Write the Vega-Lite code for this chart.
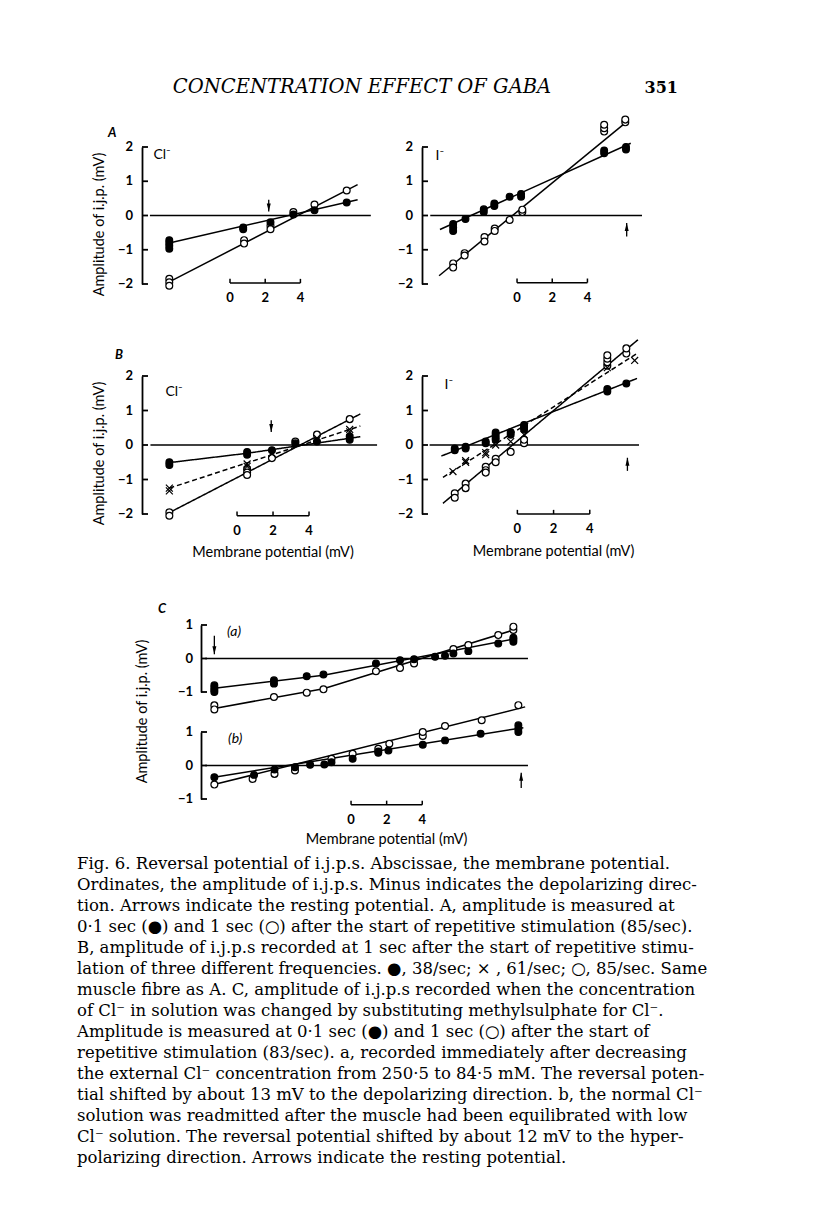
{
  "$schema": "https://vega.github.io/schema/vega-lite/v6.json",
  "background": "white",
  "padding": {"left": 77, "top": 76, "right": 10, "bottom": 10},
  "config": {"view": {"stroke": null}, "point": {"opacity": 1}},
  "columns": 4,
  "align": "each",
  "bounds": "flush",
  "spacing": 0,
  "datasets": {
    "points": [
      {"panel": "A-Cl", "sym": "open", "x": -3.45, "y": -1.85}, {"panel": "A-Cl", "sym": "open", "x": -3.45, "y": -1.95}, {"panel": "A-Cl", "sym": "open", "x": -3.45, "y": -2.05},
      {"panel": "A-Cl", "sym": "open", "x": 0.8, "y": -0.72}, {"panel": "A-Cl", "sym": "open", "x": 0.8, "y": -0.82}, {"panel": "A-Cl", "sym": "open", "x": 2.3, "y": -0.3},
      {"panel": "A-Cl", "sym": "open", "x": 2.3, "y": -0.4}, {"panel": "A-Cl", "sym": "open", "x": 3.6, "y": 0.1}, {"panel": "A-Cl", "sym": "open", "x": 4.8, "y": 0.32},
      {"panel": "A-Cl", "sym": "open", "x": 6.63, "y": 0.73},
      {"panel": "A-Cl", "sym": "filled", "x": -3.45, "y": -0.72}, {"panel": "A-Cl", "sym": "filled", "x": -3.45, "y": -0.8}, {"panel": "A-Cl", "sym": "filled", "x": -3.45, "y": -0.88},
      {"panel": "A-Cl", "sym": "filled", "x": -3.45, "y": -0.97}, {"panel": "A-Cl", "sym": "filled", "x": 0.75, "y": -0.35}, {"panel": "A-Cl", "sym": "filled", "x": 0.75, "y": -0.4},
      {"panel": "A-Cl", "sym": "filled", "x": 2.3, "y": -0.2}, {"panel": "A-Cl", "sym": "filled", "x": 3.6, "y": 0.03}, {"panel": "A-Cl", "sym": "filled", "x": 4.8, "y": 0.15},
      {"panel": "A-Cl", "sym": "filled", "x": 6.63, "y": 0.38},

      {"panel": "A-I", "sym": "open", "x": -3.63, "y": -1.4}, {"panel": "A-I", "sym": "open", "x": -3.63, "y": -1.52}, {"panel": "A-I", "sym": "open", "x": -2.98, "y": -1.1},
      {"panel": "A-I", "sym": "open", "x": -2.98, "y": -1.17}, {"panel": "A-I", "sym": "open", "x": -1.85, "y": -0.63}, {"panel": "A-I", "sym": "open", "x": -1.85, "y": -0.76},
      {"panel": "A-I", "sym": "open", "x": -1.27, "y": -0.38}, {"panel": "A-I", "sym": "open", "x": -1.27, "y": -0.45}, {"panel": "A-I", "sym": "open", "x": -0.42, "y": -0.13},
      {"panel": "A-I", "sym": "open", "x": 0.3, "y": 0.1}, {"panel": "A-I", "sym": "open", "x": 0.3, "y": 0.17}, {"panel": "A-I", "sym": "open", "x": 4.95, "y": 2.45},
      {"panel": "A-I", "sym": "open", "x": 4.95, "y": 2.55}, {"panel": "A-I", "sym": "open", "x": 4.95, "y": 2.65}, {"panel": "A-I", "sym": "open", "x": 6.15, "y": 2.72},
      {"panel": "A-I", "sym": "open", "x": 6.15, "y": 2.8},
      {"panel": "A-I", "sym": "filled", "x": -3.63, "y": -0.25}, {"panel": "A-I", "sym": "filled", "x": -3.63, "y": -0.35}, {"panel": "A-I", "sym": "filled", "x": -3.63, "y": -0.45},
      {"panel": "A-I", "sym": "filled", "x": -2.93, "y": -0.1}, {"panel": "A-I", "sym": "filled", "x": -1.89, "y": 0.1}, {"panel": "A-I", "sym": "filled", "x": -1.89, "y": 0.18},
      {"panel": "A-I", "sym": "filled", "x": -1.29, "y": 0.28}, {"panel": "A-I", "sym": "filled", "x": -1.29, "y": 0.35}, {"panel": "A-I", "sym": "filled", "x": -0.42, "y": 0.55},
      {"panel": "A-I", "sym": "filled", "x": 0.23, "y": 0.55}, {"panel": "A-I", "sym": "filled", "x": 0.23, "y": 0.63}, {"panel": "A-I", "sym": "filled", "x": 4.95, "y": 1.82},
      {"panel": "A-I", "sym": "filled", "x": 4.95, "y": 1.9}, {"panel": "A-I", "sym": "filled", "x": 6.19, "y": 1.93}, {"panel": "A-I", "sym": "filled", "x": 6.19, "y": 2.0},

      {"panel": "B-Cl", "sym": "open", "x": -3.76, "y": -1.95}, {"panel": "B-Cl", "sym": "open", "x": -3.76, "y": -2.05}, {"panel": "B-Cl", "sym": "open", "x": 0.56, "y": -0.7},
      {"panel": "B-Cl", "sym": "open", "x": 0.56, "y": -0.8}, {"panel": "B-Cl", "sym": "open", "x": 0.56, "y": -0.87}, {"panel": "B-Cl", "sym": "open", "x": 1.94, "y": -0.38},
      {"panel": "B-Cl", "sym": "open", "x": 3.24, "y": 0.1}, {"panel": "B-Cl", "sym": "open", "x": 4.44, "y": 0.3}, {"panel": "B-Cl", "sym": "open", "x": 6.26, "y": 0.75},
      {"panel": "B-Cl", "sym": "cross", "x": -3.76, "y": -1.25}, {"panel": "B-Cl", "sym": "cross", "x": -3.76, "y": -1.33}, {"panel": "B-Cl", "sym": "cross", "x": 0.56, "y": -0.55},
      {"panel": "B-Cl", "sym": "cross", "x": 0.56, "y": -0.62}, {"panel": "B-Cl", "sym": "cross", "x": 1.94, "y": -0.25}, {"panel": "B-Cl", "sym": "cross", "x": 3.24, "y": 0.05},
      {"panel": "B-Cl", "sym": "cross", "x": 4.44, "y": 0.2}, {"panel": "B-Cl", "sym": "cross", "x": 6.26, "y": 0.38}, {"panel": "B-Cl", "sym": "cross", "x": 6.26, "y": 0.45},
      {"panel": "B-Cl", "sym": "filled", "x": -3.76, "y": -0.5}, {"panel": "B-Cl", "sym": "filled", "x": -3.76, "y": -0.58}, {"panel": "B-Cl", "sym": "filled", "x": 0.56, "y": -0.2},
      {"panel": "B-Cl", "sym": "filled", "x": 0.56, "y": -0.28}, {"panel": "B-Cl", "sym": "filled", "x": 1.94, "y": -0.15}, {"panel": "B-Cl", "sym": "filled", "x": 3.24, "y": 0.05},
      {"panel": "B-Cl", "sym": "filled", "x": 4.44, "y": 0.1}, {"panel": "B-Cl", "sym": "filled", "x": 6.26, "y": 0.15}, {"panel": "B-Cl", "sym": "filled", "x": 6.26, "y": 0.25},

      {"panel": "B-I", "sym": "open", "x": -3.46, "y": -1.4}, {"panel": "B-I", "sym": "open", "x": -3.46, "y": -1.53}, {"panel": "B-I", "sym": "open", "x": -2.86, "y": -1.12},
      {"panel": "B-I", "sym": "open", "x": -2.86, "y": -1.25}, {"panel": "B-I", "sym": "open", "x": -1.75, "y": -0.63}, {"panel": "B-I", "sym": "open", "x": -1.75, "y": -0.73},
      {"panel": "B-I", "sym": "open", "x": -1.75, "y": -0.8}, {"panel": "B-I", "sym": "open", "x": -1.2, "y": -0.4}, {"panel": "B-I", "sym": "open", "x": -1.2, "y": -0.5},
      {"panel": "B-I", "sym": "open", "x": -0.37, "y": -0.2}, {"panel": "B-I", "sym": "open", "x": 0.37, "y": 0.05}, {"panel": "B-I", "sym": "open", "x": 0.37, "y": 0.15},
      {"panel": "B-I", "sym": "open", "x": 4.97, "y": 2.3}, {"panel": "B-I", "sym": "open", "x": 4.97, "y": 2.4}, {"panel": "B-I", "sym": "open", "x": 4.97, "y": 2.5},
      {"panel": "B-I", "sym": "open", "x": 4.97, "y": 2.6}, {"panel": "B-I", "sym": "open", "x": 6.02, "y": 2.65}, {"panel": "B-I", "sym": "open", "x": 6.02, "y": 2.8},
      {"panel": "B-I", "sym": "cross", "x": -3.56, "y": -0.77}, {"panel": "B-I", "sym": "cross", "x": -2.86, "y": -0.45}, {"panel": "B-I", "sym": "cross", "x": -2.86, "y": -0.5},
      {"panel": "B-I", "sym": "cross", "x": -1.75, "y": -0.22}, {"panel": "B-I", "sym": "cross", "x": -1.75, "y": -0.28}, {"panel": "B-I", "sym": "cross", "x": -1.2, "y": 0.0},
      {"panel": "B-I", "sym": "cross", "x": -0.37, "y": 0.1}, {"panel": "B-I", "sym": "cross", "x": 0.37, "y": 0.3}, {"panel": "B-I", "sym": "cross", "x": 4.97, "y": 2.24},
      {"panel": "B-I", "sym": "cross", "x": 6.48, "y": 2.45},
      {"panel": "B-I", "sym": "filled", "x": -3.46, "y": -0.1}, {"panel": "B-I", "sym": "filled", "x": -3.46, "y": -0.15}, {"panel": "B-I", "sym": "filled", "x": -2.86, "y": -0.05},
      {"panel": "B-I", "sym": "filled", "x": -2.86, "y": -0.1}, {"panel": "B-I", "sym": "filled", "x": -1.75, "y": 0.05}, {"panel": "B-I", "sym": "filled", "x": -1.75, "y": 0.1},
      {"panel": "B-I", "sym": "filled", "x": -1.2, "y": 0.15}, {"panel": "B-I", "sym": "filled", "x": -1.2, "y": 0.22}, {"panel": "B-I", "sym": "filled", "x": -1.2, "y": 0.3},
      {"panel": "B-I", "sym": "filled", "x": -1.2, "y": 0.36}, {"panel": "B-I", "sym": "filled", "x": -0.37, "y": 0.3}, {"panel": "B-I", "sym": "filled", "x": -0.37, "y": 0.37},
      {"panel": "B-I", "sym": "filled", "x": 0.37, "y": 0.45}, {"panel": "B-I", "sym": "filled", "x": 0.37, "y": 0.52}, {"panel": "B-I", "sym": "filled", "x": 0.37, "y": 0.58},
      {"panel": "B-I", "sym": "filled", "x": 4.97, "y": 1.55}, {"panel": "B-I", "sym": "filled", "x": 4.97, "y": 1.62}, {"panel": "B-I", "sym": "filled", "x": 6.02, "y": 1.78},

      {"panel": "C-a", "sym": "open", "x": -7.68, "y": -1.4}, {"panel": "C-a", "sym": "open", "x": -7.68, "y": -1.52}, {"panel": "C-a", "sym": "open", "x": -4.33, "y": -1.15},
      {"panel": "C-a", "sym": "open", "x": -2.49, "y": -1.02}, {"panel": "C-a", "sym": "open", "x": -1.55, "y": -0.92}, {"panel": "C-a", "sym": "open", "x": 1.4, "y": -0.38},
      {"panel": "C-a", "sym": "open", "x": 2.75, "y": -0.28}, {"panel": "C-a", "sym": "open", "x": 3.54, "y": -0.15}, {"panel": "C-a", "sym": "open", "x": 5.75, "y": 0.28},
      {"panel": "C-a", "sym": "open", "x": 6.59, "y": 0.4}, {"panel": "C-a", "sym": "open", "x": 8.27, "y": 0.7}, {"panel": "C-a", "sym": "open", "x": 9.12, "y": 0.85},
      {"panel": "C-a", "sym": "open", "x": 9.12, "y": 0.95},
      {"panel": "C-a", "sym": "filled", "x": -7.68, "y": -0.8}, {"panel": "C-a", "sym": "filled", "x": -7.68, "y": -0.87}, {"panel": "C-a", "sym": "filled", "x": -7.68, "y": -0.94},
      {"panel": "C-a", "sym": "filled", "x": -7.68, "y": -1.0}, {"panel": "C-a", "sym": "filled", "x": -4.33, "y": -0.65}, {"panel": "C-a", "sym": "filled", "x": -4.33, "y": -0.75},
      {"panel": "C-a", "sym": "filled", "x": -2.49, "y": -0.53}, {"panel": "C-a", "sym": "filled", "x": -1.55, "y": -0.48}, {"panel": "C-a", "sym": "filled", "x": 1.4, "y": -0.15},
      {"panel": "C-a", "sym": "filled", "x": 2.75, "y": -0.05}, {"panel": "C-a", "sym": "filled", "x": 3.54, "y": -0.02}, {"panel": "C-a", "sym": "filled", "x": 4.72, "y": 0.05},
      {"panel": "C-a", "sym": "filled", "x": 5.28, "y": 0.08}, {"panel": "C-a", "sym": "filled", "x": 5.75, "y": 0.15}, {"panel": "C-a", "sym": "filled", "x": 6.59, "y": 0.22},
      {"panel": "C-a", "sym": "filled", "x": 8.27, "y": 0.45}, {"panel": "C-a", "sym": "filled", "x": 9.12, "y": 0.5}, {"panel": "C-a", "sym": "filled", "x": 9.12, "y": 0.57},
      {"panel": "C-a", "sym": "filled", "x": 9.12, "y": 0.62},

      {"panel": "C-b", "sym": "open", "x": -7.68, "y": -0.57}, {"panel": "C-b", "sym": "open", "x": -5.53, "y": -0.4}, {"panel": "C-b", "sym": "open", "x": -4.3, "y": -0.25},
      {"panel": "C-b", "sym": "open", "x": -3.15, "y": -0.15}, {"panel": "C-b", "sym": "open", "x": -1.1, "y": 0.2}, {"panel": "C-b", "sym": "open", "x": 0.09, "y": 0.35},
      {"panel": "C-b", "sym": "open", "x": 1.53, "y": 0.5}, {"panel": "C-b", "sym": "open", "x": 2.15, "y": 0.65}, {"panel": "C-b", "sym": "open", "x": 4.03, "y": 0.88},
      {"panel": "C-b", "sym": "open", "x": 4.03, "y": 1.0}, {"panel": "C-b", "sym": "open", "x": 5.28, "y": 1.18}, {"panel": "C-b", "sym": "open", "x": 7.34, "y": 1.35},
      {"panel": "C-b", "sym": "open", "x": 9.4, "y": 1.8},
      {"panel": "C-b", "sym": "filled", "x": -7.68, "y": -0.35}, {"panel": "C-b", "sym": "filled", "x": -5.45, "y": -0.28}, {"panel": "C-b", "sym": "filled", "x": -4.3, "y": -0.12},
      {"panel": "C-b", "sym": "filled", "x": -3.15, "y": -0.05}, {"panel": "C-b", "sym": "filled", "x": -2.3, "y": 0.02}, {"panel": "C-b", "sym": "filled", "x": -1.5, "y": 0.03},
      {"panel": "C-b", "sym": "filled", "x": -1.1, "y": 0.1}, {"panel": "C-b", "sym": "filled", "x": 0.09, "y": 0.2}, {"panel": "C-b", "sym": "filled", "x": 1.53, "y": 0.38},
      {"panel": "C-b", "sym": "filled", "x": 1.53, "y": 0.42}, {"panel": "C-b", "sym": "filled", "x": 2.1, "y": 0.45}, {"panel": "C-b", "sym": "filled", "x": 4.03, "y": 0.62},
      {"panel": "C-b", "sym": "filled", "x": 5.28, "y": 0.75}, {"panel": "C-b", "sym": "filled", "x": 7.28, "y": 0.95}, {"panel": "C-b", "sym": "filled", "x": 9.4, "y": 1.0},
      {"panel": "C-b", "sym": "filled", "x": 9.4, "y": 1.1}, {"panel": "C-b", "sym": "filled", "x": 9.4, "y": 1.2}
    ],
    "fits": [
      {"panel": "A-Cl", "sym": "filled", "x": -3.45, "y": -0.8}, {"panel": "A-Cl", "sym": "filled", "x": 7.25, "y": 0.46},
      {"panel": "A-Cl", "sym": "open", "x": -3.45, "y": -1.94}, {"panel": "A-Cl", "sym": "open", "x": 7.25, "y": 0.9},
      {"panel": "A-I", "sym": "filled", "x": -4.38, "y": -0.41}, {"panel": "A-I", "sym": "filled", "x": 6.46, "y": 2.11},
      {"panel": "A-I", "sym": "open", "x": -4.43, "y": -1.76}, {"panel": "A-I", "sym": "open", "x": 6.31, "y": 2.77},
      {"panel": "B-Cl", "sym": "filled", "x": -3.76, "y": -0.51}, {"panel": "B-Cl", "sym": "filled", "x": 0.56, "y": -0.24}, {"panel": "B-Cl", "sym": "filled", "x": 6.85, "y": 0.24},
      {"panel": "B-Cl", "sym": "cross", "x": -3.76, "y": -1.25}, {"panel": "B-Cl", "sym": "cross", "x": 6.85, "y": 0.55},
      {"panel": "B-Cl", "sym": "open", "x": -3.76, "y": -1.96}, {"panel": "B-Cl", "sym": "open", "x": 6.85, "y": 0.9},
      {"panel": "B-I", "sym": "filled", "x": -4.2, "y": -0.32}, {"panel": "B-I", "sym": "filled", "x": 6.61, "y": 1.93},
      {"panel": "B-I", "sym": "cross", "x": -4.11, "y": -0.94}, {"panel": "B-I", "sym": "cross", "x": 6.66, "y": 2.67},
      {"panel": "B-I", "sym": "open", "x": -4.11, "y": -1.69}, {"panel": "B-I", "sym": "open", "x": 6.66, "y": 3.05},
      {"panel": "C-a", "sym": "filled", "x": -7.68, "y": -0.89}, {"panel": "C-a", "sym": "filled", "x": -1.55, "y": -0.5}, {"panel": "C-a", "sym": "filled", "x": 9.3, "y": 0.6},
      {"panel": "C-a", "sym": "open", "x": -7.68, "y": -1.49}, {"panel": "C-a", "sym": "open", "x": -1.55, "y": -0.9}, {"panel": "C-a", "sym": "open", "x": 9.31, "y": 0.88},
      {"panel": "C-b", "sym": "filled", "x": -7.7, "y": -0.35}, {"panel": "C-b", "sym": "filled", "x": 9.68, "y": 1.13},
      {"panel": "C-b", "sym": "open", "x": -7.7, "y": -0.57}, {"panel": "C-b", "sym": "open", "x": 9.78, "y": 1.75}
    ],
    "arrows": [
      {"panel": "A-Cl", "dir": "down", "x": 2.2, "y": 0.46, "tip": 0.12},
      {"panel": "A-I", "dir": "up", "x": 6.23, "y": -0.61, "tip": -0.22},
      {"panel": "B-Cl", "dir": "down", "x": 1.9, "y": 0.72, "tip": 0.38},
      {"panel": "B-I", "dir": "up", "x": 6.08, "y": -0.75, "tip": -0.37},
      {"panel": "C-a", "dir": "down", "x": -7.68, "y": 0.68, "tip": 0.13},
      {"panel": "C-b", "dir": "up", "x": 9.56, "y": -0.67, "tip": -0.22}
    ],
    "notes": [
      {"panel": "A-Cl", "kind": "ion", "text": "Cl⁻", "x": -4.35, "y": 1.78},
      {"panel": "A-I", "kind": "ion", "text": "I⁻", "x": -4.63, "y": 1.73},
      {"panel": "B-Cl", "kind": "ion", "text": "Cl⁻", "x": -3.98, "y": 1.53},
      {"panel": "B-I", "kind": "ion", "text": "I⁻", "x": -4.02, "y": 1.73},
      {"panel": "C-a", "kind": "ion", "text": "(a)", "x": -6.97, "y": 0.78},
      {"panel": "C-b", "kind": "ion", "text": "(b)", "x": -6.91, "y": 0.79},
      {"panel": "B-Cl", "kind": "xlab", "text": "Membrane potential (mV)", "x": 2, "y": -3.13},
      {"panel": "B-I", "kind": "xlab", "text": "Membrane potential (mV)", "x": 2, "y": -3.09},
      {"panel": "C-b", "kind": "xlab", "text": "Membrane potential (mV)", "x": 2, "y": -2.21}
    ],
    "bar": [{"x": 0}, {"x": 2}, {"x": 4}],
    "barspan": [{"from": 0, "to": 4}],
    "one": [{"level": 0}],
    "yt2": [{"v": -2}, {"v": -1}, {"v": 0}, {"v": 1}, {"v": 2}],
    "yt1": [{"v": -1}, {"v": 0}, {"v": 1}]
  },
  "concat": [
    {"width": 65, "height": 1, "data": {"values": []}, "mark": "point"},
    {"width": 59, "height": 1, "data": {"values": []}, "mark": "point"},
    {"width": 221, "height": 1, "data": {"values": []}, "mark": "point",
     "title": {"text": "CONCENTRATION EFFECT OF GABA", "anchor": "middle", "frame": "group", "baseline": "alphabetic", "offset": 0, "dx": 50.5, "font": "DejaVu Serif", "fontSize": 19.5, "fontStyle": "italic", "fontWeight": "normal", "color": "black"}},
    {"width": 220, "height": 1, "data": {"values": []}, "mark": "point",
     "title": {"text": "351", "anchor": "end", "frame": "group", "baseline": "alphabetic", "offset": 3, "dx": 36, "font": "DejaVu Serif", "fontSize": 16, "fontWeight": "bold", "color": "black"}},

    {"width": 1, "height": 34, "data": {"values": []}, "mark": "point"},
    {"width": 1, "height": 34, "data": {"values": []}, "mark": "point"},
    {"width": 1, "height": 34, "data": {"values": []}, "mark": "point"},
    {"width": 1, "height": 34, "data": {"values": []}, "mark": "point"},

    {"width": 1, "height": 137, "data": {"values": []}, "mark": "point"},
    {
      "width": 59, "height": 137,
      "title": {"text": "A", "anchor": "start", "frame": "group", "baseline": "alphabetic", "dx": -34, "offset": -8.7, "font": "Lato", "fontSize": 13, "fontStyle": "italic", "fontWeight": "bold", "color": "black"},
      "layer": [
        {"data": {"name": "one"}, "mark": {"type": "rule", "color": "black", "strokeWidth": 1.3},
         "encoding": {"x": {"datum": -4.55, "type": "quantitative", "scale": {"domain": [-5, -1.648], "nice": false, "zero": false}, "axis": null}, "x2": {"datum": 8},
                      "y": {"field": "level", "type": "quantitative", "scale": {"domain": [-2, 2], "nice": false, "zero": false},
                            "axis": {"labels": false, "ticks": false, "grid": false, "domainColor": "black", "domainWidth": 1.8, "title": "Amplitude of i.j.p. (mV)", "titleX": -39, "titleY": 77, "titleAngle": -90, "titleAlign": "center", "titleBaseline": "alphabetic", "titleFont": "Lato", "titleFontSize": 14.5, "titleFontWeight": "normal", "titleColor": "black"}}}},
        {"data": {"name": "yt2"}, "mark": {"type": "rule", "color": "black", "strokeWidth": 1.8},
         "encoding": {"x": {"datum": -5, "type": "quantitative", "scale": {"domain": [-5, -1.648], "nice": false, "zero": false}, "axis": null}, "x2": {"datum": -4.66},
                      "y": {"field": "v", "type": "quantitative", "scale": {"domain": [-2, 2], "nice": false, "zero": false}}}},
        {"data": {"name": "yt2"}, "mark": {"type": "text", "align": "right", "baseline": "middle", "dx": -9, "font": "Lato", "fontSize": 13, "fontWeight": "bold", "color": "black"},
         "encoding": {"x": {"datum": -5, "type": "quantitative", "scale": {"domain": [-5, -1.648], "nice": false, "zero": false}, "axis": null},
                      "y": {"field": "v", "type": "quantitative", "scale": {"domain": [-2, 2], "nice": false, "zero": false}}, "text": {"field": "v", "type": "quantitative"}}},
        {"data": {"name": "fits"}, "transform": [{"filter": "datum.panel === 'A-Cl'"}], "mark": {"type": "line", "color": "black", "strokeWidth": 1.5},
         "encoding": {"x": {"field": "x", "type": "quantitative", "scale": {"domain": [-5, -1.648], "nice": false, "zero": false}, "axis": null},
                      "y": {"field": "y", "type": "quantitative", "scale": {"domain": [-2, 2], "nice": false, "zero": false}},
                      "detail": {"field": "sym", "type": "nominal"}}},
        {"data": {"name": "arrows"}, "transform": [{"filter": "datum.panel === 'A-Cl'"}], "mark": {"type": "rule", "color": "black", "strokeWidth": 1.3},
         "encoding": {"x": {"field": "x", "type": "quantitative", "scale": {"domain": [-5, -1.648], "nice": false, "zero": false}, "axis": null},
                      "y": {"field": "y", "type": "quantitative", "scale": {"domain": [-2, 2], "nice": false, "zero": false}}, "y2": {"field": "tip"}}},
        {"data": {"name": "arrows"}, "transform": [{"filter": "datum.panel === 'A-Cl'"}], "mark": {"type": "point", "shape": "M-0.5,-2L0,0L0.5,-2Z", "filled": true, "color": "black", "size": 64, "opacity": 1},
         "encoding": {"x": {"field": "x", "type": "quantitative", "scale": {"domain": [-5, -1.648], "nice": false, "zero": false}, "axis": null},
                      "y": {"field": "tip", "type": "quantitative", "scale": {"domain": [-2, 2], "nice": false, "zero": false}}}},
        {"data": {"name": "points"}, "transform": [{"filter": "datum.panel === 'A-Cl'"}], "mark": {"type": "point", "filled": true, "stroke": "black", "strokeWidth": 1.2, "opacity": 1},
         "encoding": {
           "x": {"field": "x", "type": "quantitative", "scale": {"domain": [-5, -1.648], "nice": false, "zero": false}, "axis": null},
           "y": {"field": "y", "type": "quantitative", "scale": {"domain": [-2, 2], "nice": false, "zero": false}},
           "shape": {"field": "sym", "type": "nominal", "scale": {"domain": ["filled", "open", "cross"], "range": ["circle", "circle", "M-1,-1L1,1M-1,1L1,-1"]}, "legend": null},
           "fill": {"field": "sym", "type": "nominal", "scale": {"domain": ["filled", "open", "cross"], "range": ["black", "white", "transparent"]}, "legend": null},
           "size": {"field": "sym", "type": "nominal", "scale": {"domain": ["filled", "open", "cross"], "range": [46, 48, 42]}, "legend": null}}},
        {"data": {"name": "notes"}, "transform": [{"filter": "datum.panel === 'A-Cl' && datum.kind === 'ion'"}], "mark": {"type": "text", "align": "left", "baseline": "middle", "font": "Lato", "fontSize": 14, "color": "black"},
         "encoding": {"x": {"field": "x", "type": "quantitative", "scale": {"domain": [-5, -1.648], "nice": false, "zero": false}, "axis": null},
                      "y": {"field": "y", "type": "quantitative", "scale": {"domain": [-2, 2], "nice": false, "zero": false}}, "text": {"field": "text"}}},
        {"data": {"name": "barspan"}, "mark": {"type": "rule", "color": "black", "strokeWidth": 1.5},
         "encoding": {"x": {"field": "from", "type": "quantitative", "scale": {"domain": [-5, -1.648], "nice": false, "zero": false}, "axis": null}, "x2": {"field": "to"},
                      "y": {"datum": -1.97, "type": "quantitative", "scale": {"domain": [-2, 2], "nice": false, "zero": false}}}},
        {"data": {"name": "bar"}, "mark": {"type": "rule", "color": "black", "strokeWidth": 1.5},
         "encoding": {"x": {"field": "x", "type": "quantitative", "scale": {"domain": [-5, -1.648], "nice": false, "zero": false}, "axis": null},
                      "y": {"datum": -1.97, "type": "quantitative", "scale": {"domain": [-2, 2], "nice": false, "zero": false}}, "y2": {"datum": -1.85}}},
        {"data": {"name": "bar"}, "mark": {"type": "text", "dy": 15, "align": "center", "baseline": "middle", "font": "Lato", "fontSize": 13, "fontWeight": "bold", "color": "black"},
         "encoding": {"x": {"field": "x", "type": "quantitative", "scale": {"domain": [-5, -1.648], "nice": false, "zero": false}, "axis": null},
                      "y": {"datum": -1.97, "type": "quantitative", "scale": {"domain": [-2, 2], "nice": false, "zero": false}}, "text": {"field": "x", "type": "quantitative"}}}
      ]
    },
    {"width": 1, "height": 137, "data": {"values": []}, "mark": "point"},
    {
      "width": 220, "height": 137,
      "layer": [
        {"data": {"name": "one"}, "mark": {"type": "rule", "color": "black", "strokeWidth": 1.3},
         "encoding": {"x": {"datum": -4.93, "type": "quantitative", "scale": {"domain": [-5.4, 7.1], "nice": false, "zero": false}, "axis": null}, "x2": {"datum": 7.1},
                      "y": {"field": "level", "type": "quantitative", "scale": {"domain": [-2, 2], "nice": false, "zero": false},
                            "axis": {"labels": false, "ticks": false, "grid": false, "domainColor": "black", "domainWidth": 1.8, "title": null}}}},
        {"data": {"name": "yt2"}, "mark": {"type": "rule", "color": "black", "strokeWidth": 1.8},
         "encoding": {"x": {"datum": -5.4, "type": "quantitative", "scale": {"domain": [-5.4, 7.1], "nice": false, "zero": false}, "axis": null}, "x2": {"datum": -5.06},
                      "y": {"field": "v", "type": "quantitative", "scale": {"domain": [-2, 2], "nice": false, "zero": false}}}},
        {"data": {"name": "yt2"}, "mark": {"type": "text", "align": "right", "baseline": "middle", "dx": -9, "font": "Lato", "fontSize": 13, "fontWeight": "bold", "color": "black"},
         "encoding": {"x": {"datum": -5.4, "type": "quantitative", "scale": {"domain": [-5.4, 7.1], "nice": false, "zero": false}, "axis": null},
                      "y": {"field": "v", "type": "quantitative", "scale": {"domain": [-2, 2], "nice": false, "zero": false}}, "text": {"field": "v", "type": "quantitative"}}},
        {"data": {"name": "fits"}, "transform": [{"filter": "datum.panel === 'A-I'"}], "mark": {"type": "line", "color": "black", "strokeWidth": 1.5},
         "encoding": {"x": {"field": "x", "type": "quantitative", "scale": {"domain": [-5.4, 7.1], "nice": false, "zero": false}, "axis": null},
                      "y": {"field": "y", "type": "quantitative", "scale": {"domain": [-2, 2], "nice": false, "zero": false}},
                      "detail": {"field": "sym", "type": "nominal"}}},
        {"data": {"name": "arrows"}, "transform": [{"filter": "datum.panel === 'A-I'"}], "mark": {"type": "rule", "color": "black", "strokeWidth": 1.3},
         "encoding": {"x": {"field": "x", "type": "quantitative", "scale": {"domain": [-5.4, 7.1], "nice": false, "zero": false}, "axis": null},
                      "y": {"field": "y", "type": "quantitative", "scale": {"domain": [-2, 2], "nice": false, "zero": false}}, "y2": {"field": "tip"}}},
        {"data": {"name": "arrows"}, "transform": [{"filter": "datum.panel === 'A-I'"}], "mark": {"type": "point", "shape": "M-0.5,2L0,0L0.5,2Z", "filled": true, "color": "black", "size": 64, "opacity": 1},
         "encoding": {"x": {"field": "x", "type": "quantitative", "scale": {"domain": [-5.4, 7.1], "nice": false, "zero": false}, "axis": null},
                      "y": {"field": "tip", "type": "quantitative", "scale": {"domain": [-2, 2], "nice": false, "zero": false}}}},
        {"data": {"name": "points"}, "transform": [{"filter": "datum.panel === 'A-I'"}], "mark": {"type": "point", "filled": true, "stroke": "black", "strokeWidth": 1.2, "opacity": 1},
         "encoding": {
           "x": {"field": "x", "type": "quantitative", "scale": {"domain": [-5.4, 7.1], "nice": false, "zero": false}, "axis": null},
           "y": {"field": "y", "type": "quantitative", "scale": {"domain": [-2, 2], "nice": false, "zero": false}},
           "shape": {"field": "sym", "type": "nominal", "scale": {"domain": ["filled", "open", "cross"], "range": ["circle", "circle", "M-1,-1L1,1M-1,1L1,-1"]}, "legend": null},
           "fill": {"field": "sym", "type": "nominal", "scale": {"domain": ["filled", "open", "cross"], "range": ["black", "white", "transparent"]}, "legend": null},
           "size": {"field": "sym", "type": "nominal", "scale": {"domain": ["filled", "open", "cross"], "range": [46, 48, 42]}, "legend": null}}},
        {"data": {"name": "notes"}, "transform": [{"filter": "datum.panel === 'A-I' && datum.kind === 'ion'"}], "mark": {"type": "text", "align": "left", "baseline": "middle", "font": "Lato", "fontSize": 14, "color": "black"},
         "encoding": {"x": {"field": "x", "type": "quantitative", "scale": {"domain": [-5.4, 7.1], "nice": false, "zero": false}, "axis": null},
                      "y": {"field": "y", "type": "quantitative", "scale": {"domain": [-2, 2], "nice": false, "zero": false}}, "text": {"field": "text"}}},
        {"data": {"name": "barspan"}, "mark": {"type": "rule", "color": "black", "strokeWidth": 1.5},
         "encoding": {"x": {"field": "from", "type": "quantitative", "scale": {"domain": [-5.4, 7.1], "nice": false, "zero": false}, "axis": null}, "x2": {"field": "to"},
                      "y": {"datum": -1.96, "type": "quantitative", "scale": {"domain": [-2, 2], "nice": false, "zero": false}}}},
        {"data": {"name": "bar"}, "mark": {"type": "rule", "color": "black", "strokeWidth": 1.5},
         "encoding": {"x": {"field": "x", "type": "quantitative", "scale": {"domain": [-5.4, 7.1], "nice": false, "zero": false}, "axis": null},
                      "y": {"datum": -1.96, "type": "quantitative", "scale": {"domain": [-2, 2], "nice": false, "zero": false}}, "y2": {"datum": -1.84}}},
        {"data": {"name": "bar"}, "mark": {"type": "text", "dy": 15, "align": "center", "baseline": "middle", "font": "Lato", "fontSize": 13, "fontWeight": "bold", "color": "black"},
         "encoding": {"x": {"field": "x", "type": "quantitative", "scale": {"domain": [-5.4, 7.1], "nice": false, "zero": false}, "axis": null},
                      "y": {"datum": -1.96, "type": "quantitative", "scale": {"domain": [-2, 2], "nice": false, "zero": false}}, "text": {"field": "x", "type": "quantitative"}}}
      ]
    },

    {"width": 1, "height": 92, "data": {"values": []}, "mark": "point"},
    {"width": 1, "height": 92, "data": {"values": []}, "mark": "point"},
    {"width": 1, "height": 92, "data": {"values": []}, "mark": "point"},
    {"width": 1, "height": 92, "data": {"values": []}, "mark": "point"},

    {"width": 1, "height": 138, "data": {"values": []}, "mark": "point"},
    {
      "width": 59, "height": 138,
      "title": {"text": "B", "anchor": "start", "frame": "group", "baseline": "alphabetic", "dx": -27, "offset": -1.7, "font": "Lato", "fontSize": 13, "fontStyle": "italic", "fontWeight": "bold", "color": "black"},
      "layer": [
        {"data": {"name": "one"}, "mark": {"type": "rule", "color": "black", "strokeWidth": 1.3},
         "encoding": {"x": {"datum": -4.81, "type": "quantitative", "scale": {"domain": [-5.28, -2.002], "nice": false, "zero": false}, "axis": null}, "x2": {"datum": 7.78},
                      "y": {"field": "level", "type": "quantitative", "scale": {"domain": [-2, 2], "nice": false, "zero": false},
                            "axis": {"labels": false, "ticks": false, "grid": false, "domainColor": "black", "domainWidth": 1.8, "title": "Amplitude of i.j.p. (mV)", "titleX": -39, "titleY": 77, "titleAngle": -90, "titleAlign": "center", "titleBaseline": "alphabetic", "titleFont": "Lato", "titleFontSize": 14.5, "titleFontWeight": "normal", "titleColor": "black"}}}},
        {"data": {"name": "yt2"}, "mark": {"type": "rule", "color": "black", "strokeWidth": 1.8},
         "encoding": {"x": {"datum": -5.28, "type": "quantitative", "scale": {"domain": [-5.28, -2.002], "nice": false, "zero": false}, "axis": null}, "x2": {"datum": -4.947},
                      "y": {"field": "v", "type": "quantitative", "scale": {"domain": [-2, 2], "nice": false, "zero": false}}}},
        {"data": {"name": "yt2"}, "mark": {"type": "text", "align": "right", "baseline": "middle", "dx": -9, "font": "Lato", "fontSize": 13, "fontWeight": "bold", "color": "black"},
         "encoding": {"x": {"datum": -5.28, "type": "quantitative", "scale": {"domain": [-5.28, -2.002], "nice": false, "zero": false}, "axis": null},
                      "y": {"field": "v", "type": "quantitative", "scale": {"domain": [-2, 2], "nice": false, "zero": false}}, "text": {"field": "v", "type": "quantitative"}}},
        {"data": {"name": "fits"}, "transform": [{"filter": "datum.panel === 'B-Cl'"}], "mark": {"type": "line", "color": "black", "strokeWidth": 1.5},
         "encoding": {"x": {"field": "x", "type": "quantitative", "scale": {"domain": [-5.28, -2.002], "nice": false, "zero": false}, "axis": null},
                      "y": {"field": "y", "type": "quantitative", "scale": {"domain": [-2, 2], "nice": false, "zero": false}},
                      "detail": {"field": "sym", "type": "nominal"},
                      "strokeDash": {"field": "sym", "type": "nominal", "scale": {"domain": ["filled", "open", "cross"], "range": [[1, 0], [1, 0], [5, 3]]}, "legend": null}}},
        {"data": {"name": "arrows"}, "transform": [{"filter": "datum.panel === 'B-Cl'"}], "mark": {"type": "rule", "color": "black", "strokeWidth": 1.3},
         "encoding": {"x": {"field": "x", "type": "quantitative", "scale": {"domain": [-5.28, -2.002], "nice": false, "zero": false}, "axis": null},
                      "y": {"field": "y", "type": "quantitative", "scale": {"domain": [-2, 2], "nice": false, "zero": false}}, "y2": {"field": "tip"}}},
        {"data": {"name": "arrows"}, "transform": [{"filter": "datum.panel === 'B-Cl'"}], "mark": {"type": "point", "shape": "M-0.5,-2L0,0L0.5,-2Z", "filled": true, "color": "black", "size": 64, "opacity": 1},
         "encoding": {"x": {"field": "x", "type": "quantitative", "scale": {"domain": [-5.28, -2.002], "nice": false, "zero": false}, "axis": null},
                      "y": {"field": "tip", "type": "quantitative", "scale": {"domain": [-2, 2], "nice": false, "zero": false}}}},
        {"data": {"name": "points"}, "transform": [{"filter": "datum.panel === 'B-Cl'"}], "mark": {"type": "point", "filled": true, "stroke": "black", "strokeWidth": 1.2, "opacity": 1},
         "encoding": {
           "x": {"field": "x", "type": "quantitative", "scale": {"domain": [-5.28, -2.002], "nice": false, "zero": false}, "axis": null},
           "y": {"field": "y", "type": "quantitative", "scale": {"domain": [-2, 2], "nice": false, "zero": false}},
           "shape": {"field": "sym", "type": "nominal", "scale": {"domain": ["filled", "open", "cross"], "range": ["circle", "circle", "M-1,-1L1,1M-1,1L1,-1"]}, "legend": null},
           "fill": {"field": "sym", "type": "nominal", "scale": {"domain": ["filled", "open", "cross"], "range": ["black", "white", "transparent"]}, "legend": null},
           "size": {"field": "sym", "type": "nominal", "scale": {"domain": ["filled", "open", "cross"], "range": [46, 48, 42]}, "legend": null}}},
        {"data": {"name": "notes"}, "transform": [{"filter": "datum.panel === 'B-Cl' && datum.kind === 'ion'"}], "mark": {"type": "text", "align": "left", "baseline": "middle", "font": "Lato", "fontSize": 14, "color": "black"},
         "encoding": {"x": {"field": "x", "type": "quantitative", "scale": {"domain": [-5.28, -2.002], "nice": false, "zero": false}, "axis": null},
                      "y": {"field": "y", "type": "quantitative", "scale": {"domain": [-2, 2], "nice": false, "zero": false}}, "text": {"field": "text"}}},
        {"data": {"name": "notes"}, "transform": [{"filter": "datum.panel === 'B-Cl' && datum.kind === 'xlab'"}], "mark": {"type": "text", "align": "center", "baseline": "middle", "font": "Lato", "fontSize": 14.5, "color": "black"},
         "encoding": {"x": {"field": "x", "type": "quantitative", "scale": {"domain": [-5.28, -2.002], "nice": false, "zero": false}, "axis": null},
                      "y": {"field": "y", "type": "quantitative", "scale": {"domain": [-2, 2], "nice": false, "zero": false}}, "text": {"field": "text"}}},
        {"data": {"name": "barspan"}, "mark": {"type": "rule", "color": "black", "strokeWidth": 1.5},
         "encoding": {"x": {"field": "from", "type": "quantitative", "scale": {"domain": [-5.28, -2.002], "nice": false, "zero": false}, "axis": null}, "x2": {"field": "to"},
                      "y": {"datum": -2.05, "type": "quantitative", "scale": {"domain": [-2, 2], "nice": false, "zero": false}}}},
        {"data": {"name": "bar"}, "mark": {"type": "rule", "color": "black", "strokeWidth": 1.5},
         "encoding": {"x": {"field": "x", "type": "quantitative", "scale": {"domain": [-5.28, -2.002], "nice": false, "zero": false}, "axis": null},
                      "y": {"datum": -2.05, "type": "quantitative", "scale": {"domain": [-2, 2], "nice": false, "zero": false}}, "y2": {"datum": -1.93}}},
        {"data": {"name": "bar"}, "mark": {"type": "text", "dy": 15, "align": "center", "baseline": "middle", "font": "Lato", "fontSize": 13, "fontWeight": "bold", "color": "black"},
         "encoding": {"x": {"field": "x", "type": "quantitative", "scale": {"domain": [-5.28, -2.002], "nice": false, "zero": false}, "axis": null},
                      "y": {"datum": -2.05, "type": "quantitative", "scale": {"domain": [-2, 2], "nice": false, "zero": false}}, "text": {"field": "x", "type": "quantitative"}}}
      ]
    },
    {"width": 1, "height": 138, "data": {"values": []}, "mark": "point"},
    {
      "width": 217, "height": 138,
      "layer": [
        {"data": {"name": "one"}, "mark": {"type": "rule", "color": "black", "strokeWidth": 1.3},
         "encoding": {"x": {"datum": -4.85, "type": "quantitative", "scale": {"domain": [-5.27, 6.72], "nice": false, "zero": false}, "axis": null}, "x2": {"datum": 6.72},
                      "y": {"field": "level", "type": "quantitative", "scale": {"domain": [-2, 2], "nice": false, "zero": false},
                            "axis": {"labels": false, "ticks": false, "grid": false, "domainColor": "black", "domainWidth": 1.8, "title": null}}}},
        {"data": {"name": "yt2"}, "mark": {"type": "rule", "color": "black", "strokeWidth": 1.8},
         "encoding": {"x": {"datum": -5.27, "type": "quantitative", "scale": {"domain": [-5.27, 6.72], "nice": false, "zero": false}, "axis": null}, "x2": {"datum": -4.94},
                      "y": {"field": "v", "type": "quantitative", "scale": {"domain": [-2, 2], "nice": false, "zero": false}}}},
        {"data": {"name": "yt2"}, "mark": {"type": "text", "align": "right", "baseline": "middle", "dx": -9, "font": "Lato", "fontSize": 13, "fontWeight": "bold", "color": "black"},
         "encoding": {"x": {"datum": -5.27, "type": "quantitative", "scale": {"domain": [-5.27, 6.72], "nice": false, "zero": false}, "axis": null},
                      "y": {"field": "v", "type": "quantitative", "scale": {"domain": [-2, 2], "nice": false, "zero": false}}, "text": {"field": "v", "type": "quantitative"}}},
        {"data": {"name": "fits"}, "transform": [{"filter": "datum.panel === 'B-I'"}], "mark": {"type": "line", "color": "black", "strokeWidth": 1.5},
         "encoding": {"x": {"field": "x", "type": "quantitative", "scale": {"domain": [-5.27, 6.72], "nice": false, "zero": false}, "axis": null},
                      "y": {"field": "y", "type": "quantitative", "scale": {"domain": [-2, 2], "nice": false, "zero": false}},
                      "detail": {"field": "sym", "type": "nominal"},
                      "strokeDash": {"field": "sym", "type": "nominal", "scale": {"domain": ["filled", "open", "cross"], "range": [[1, 0], [1, 0], [5, 3]]}, "legend": null}}},
        {"data": {"name": "arrows"}, "transform": [{"filter": "datum.panel === 'B-I'"}], "mark": {"type": "rule", "color": "black", "strokeWidth": 1.3},
         "encoding": {"x": {"field": "x", "type": "quantitative", "scale": {"domain": [-5.27, 6.72], "nice": false, "zero": false}, "axis": null},
                      "y": {"field": "y", "type": "quantitative", "scale": {"domain": [-2, 2], "nice": false, "zero": false}}, "y2": {"field": "tip"}}},
        {"data": {"name": "arrows"}, "transform": [{"filter": "datum.panel === 'B-I'"}], "mark": {"type": "point", "shape": "M-0.5,2L0,0L0.5,2Z", "filled": true, "color": "black", "size": 64, "opacity": 1},
         "encoding": {"x": {"field": "x", "type": "quantitative", "scale": {"domain": [-5.27, 6.72], "nice": false, "zero": false}, "axis": null},
                      "y": {"field": "tip", "type": "quantitative", "scale": {"domain": [-2, 2], "nice": false, "zero": false}}}},
        {"data": {"name": "points"}, "transform": [{"filter": "datum.panel === 'B-I'"}], "mark": {"type": "point", "filled": true, "stroke": "black", "strokeWidth": 1.2, "opacity": 1},
         "encoding": {
           "x": {"field": "x", "type": "quantitative", "scale": {"domain": [-5.27, 6.72], "nice": false, "zero": false}, "axis": null},
           "y": {"field": "y", "type": "quantitative", "scale": {"domain": [-2, 2], "nice": false, "zero": false}},
           "shape": {"field": "sym", "type": "nominal", "scale": {"domain": ["filled", "open", "cross"], "range": ["circle", "circle", "M-1,-1L1,1M-1,1L1,-1"]}, "legend": null},
           "fill": {"field": "sym", "type": "nominal", "scale": {"domain": ["filled", "open", "cross"], "range": ["black", "white", "transparent"]}, "legend": null},
           "size": {"field": "sym", "type": "nominal", "scale": {"domain": ["filled", "open", "cross"], "range": [46, 48, 42]}, "legend": null}}},
        {"data": {"name": "notes"}, "transform": [{"filter": "datum.panel === 'B-I' && datum.kind === 'ion'"}], "mark": {"type": "text", "align": "left", "baseline": "middle", "font": "Lato", "fontSize": 14, "color": "black"},
         "encoding": {"x": {"field": "x", "type": "quantitative", "scale": {"domain": [-5.27, 6.72], "nice": false, "zero": false}, "axis": null},
                      "y": {"field": "y", "type": "quantitative", "scale": {"domain": [-2, 2], "nice": false, "zero": false}}, "text": {"field": "text"}}},
        {"data": {"name": "notes"}, "transform": [{"filter": "datum.panel === 'B-I' && datum.kind === 'xlab'"}], "mark": {"type": "text", "align": "center", "baseline": "middle", "font": "Lato", "fontSize": 14.5, "color": "black"},
         "encoding": {"x": {"field": "x", "type": "quantitative", "scale": {"domain": [-5.27, 6.72], "nice": false, "zero": false}, "axis": null},
                      "y": {"field": "y", "type": "quantitative", "scale": {"domain": [-2, 2], "nice": false, "zero": false}}, "text": {"field": "text"}}},
        {"data": {"name": "barspan"}, "mark": {"type": "rule", "color": "black", "strokeWidth": 1.5},
         "encoding": {"x": {"field": "from", "type": "quantitative", "scale": {"domain": [-5.27, 6.72], "nice": false, "zero": false}, "axis": null}, "x2": {"field": "to"},
                      "y": {"datum": -2.0, "type": "quantitative", "scale": {"domain": [-2, 2], "nice": false, "zero": false}}}},
        {"data": {"name": "bar"}, "mark": {"type": "rule", "color": "black", "strokeWidth": 1.5},
         "encoding": {"x": {"field": "x", "type": "quantitative", "scale": {"domain": [-5.27, 6.72], "nice": false, "zero": false}, "axis": null},
                      "y": {"datum": -2.0, "type": "quantitative", "scale": {"domain": [-2, 2], "nice": false, "zero": false}}, "y2": {"datum": -1.88}}},
        {"data": {"name": "bar"}, "mark": {"type": "text", "dy": 15, "align": "center", "baseline": "middle", "font": "Lato", "fontSize": 13, "fontWeight": "bold", "color": "black"},
         "encoding": {"x": {"field": "x", "type": "quantitative", "scale": {"domain": [-5.27, 6.72], "nice": false, "zero": false}, "axis": null},
                      "y": {"datum": -2.0, "type": "quantitative", "scale": {"domain": [-2, 2], "nice": false, "zero": false}}, "text": {"field": "x", "type": "quantitative"}}}
      ]
    },

    {"width": 1, "height": 111, "data": {"values": []}, "mark": "point"},
    {"width": 1, "height": 111, "data": {"values": []}, "mark": "point"},
    {"width": 1, "height": 111, "data": {"values": []}, "mark": "point"},
    {"width": 1, "height": 111, "data": {"values": []}, "mark": "point"},

    {"width": 1, "height": 67, "data": {"values": []}, "mark": "point"},
    {"width": 1, "height": 67, "data": {"values": []}, "mark": "point"},
    {
      "width": 221, "height": 67,
      "title": {"text": "C", "anchor": "start", "frame": "group", "baseline": "alphabetic", "dx": -43, "offset": -6.7, "font": "Lato", "fontSize": 13, "fontStyle": "italic", "fontWeight": "bold", "color": "black"},
      "layer": [
        {"data": {"name": "one"}, "mark": {"type": "rule", "color": "black", "strokeWidth": 1.3},
         "encoding": {"x": {"datum": -8.2, "type": "quantitative", "scale": {"domain": [-8.43, 3.986], "nice": false, "zero": false}, "axis": null}, "x2": {"datum": 9.94},
                      "y": {"field": "level", "type": "quantitative", "scale": {"domain": [-1, 1], "nice": false, "zero": false},
                            "axis": {"labels": false, "ticks": false, "grid": false, "domainColor": "black", "domainWidth": 1.8, "title": "Amplitude of i.j.p. (mV)", "titleX": -54.5, "titleY": 86, "titleAngle": -90, "titleAlign": "center", "titleBaseline": "alphabetic", "titleFont": "Lato", "titleFontSize": 14.5, "titleFontWeight": "normal", "titleColor": "black"}}}},
        {"data": {"name": "yt1"}, "mark": {"type": "rule", "color": "black", "strokeWidth": 1.8},
         "encoding": {"x": {"datum": -8.43, "type": "quantitative", "scale": {"domain": [-8.43, 3.986], "nice": false, "zero": false}, "axis": null}, "x2": {"datum": -8.093},
                      "y": {"field": "v", "type": "quantitative", "scale": {"domain": [-1, 1], "nice": false, "zero": false}}}},
        {"data": {"name": "yt1"}, "mark": {"type": "text", "align": "right", "baseline": "middle", "dx": -8, "font": "Lato", "fontSize": 13, "fontWeight": "bold", "color": "black"},
         "encoding": {"x": {"datum": -8.43, "type": "quantitative", "scale": {"domain": [-8.43, 3.986], "nice": false, "zero": false}, "axis": null},
                      "y": {"field": "v", "type": "quantitative", "scale": {"domain": [-1, 1], "nice": false, "zero": false}}, "text": {"field": "v", "type": "quantitative"}}},
        {"data": {"name": "fits"}, "transform": [{"filter": "datum.panel === 'C-a'"}], "mark": {"type": "line", "color": "black", "strokeWidth": 1.5},
         "encoding": {"x": {"field": "x", "type": "quantitative", "scale": {"domain": [-8.43, 3.986], "nice": false, "zero": false}, "axis": null},
                      "y": {"field": "y", "type": "quantitative", "scale": {"domain": [-1, 1], "nice": false, "zero": false}},
                      "detail": {"field": "sym", "type": "nominal"}}},
        {"data": {"name": "arrows"}, "transform": [{"filter": "datum.panel === 'C-a'"}], "mark": {"type": "rule", "color": "black", "strokeWidth": 1.3},
         "encoding": {"x": {"field": "x", "type": "quantitative", "scale": {"domain": [-8.43, 3.986], "nice": false, "zero": false}, "axis": null},
                      "y": {"field": "y", "type": "quantitative", "scale": {"domain": [-1, 1], "nice": false, "zero": false}}, "y2": {"field": "tip"}}},
        {"data": {"name": "arrows"}, "transform": [{"filter": "datum.panel === 'C-a'"}], "mark": {"type": "point", "shape": "M-0.5,-2L0,0L0.5,-2Z", "filled": true, "color": "black", "size": 64, "opacity": 1},
         "encoding": {"x": {"field": "x", "type": "quantitative", "scale": {"domain": [-8.43, 3.986], "nice": false, "zero": false}, "axis": null},
                      "y": {"field": "tip", "type": "quantitative", "scale": {"domain": [-1, 1], "nice": false, "zero": false}}}},
        {"data": {"name": "points"}, "transform": [{"filter": "datum.panel === 'C-a'"}], "mark": {"type": "point", "filled": true, "stroke": "black", "strokeWidth": 1.2, "opacity": 1},
         "encoding": {
           "x": {"field": "x", "type": "quantitative", "scale": {"domain": [-8.43, 3.986], "nice": false, "zero": false}, "axis": null},
           "y": {"field": "y", "type": "quantitative", "scale": {"domain": [-1, 1], "nice": false, "zero": false}},
           "shape": {"field": "sym", "type": "nominal", "scale": {"domain": ["filled", "open", "cross"], "range": ["circle", "circle", "M-1,-1L1,1M-1,1L1,-1"]}, "legend": null},
           "fill": {"field": "sym", "type": "nominal", "scale": {"domain": ["filled", "open", "cross"], "range": ["black", "white", "transparent"]}, "legend": null},
           "size": {"field": "sym", "type": "nominal", "scale": {"domain": ["filled", "open", "cross"], "range": [46, 48, 42]}, "legend": null}}},
        {"data": {"name": "notes"}, "transform": [{"filter": "datum.panel === 'C-a' && datum.kind === 'ion'"}], "mark": {"type": "text", "align": "left", "baseline": "middle", "font": "Lato", "fontSize": 14, "fontStyle": "italic", "color": "black"},
         "encoding": {"x": {"field": "x", "type": "quantitative", "scale": {"domain": [-8.43, 3.986], "nice": false, "zero": false}, "axis": null},
                      "y": {"field": "y", "type": "quantitative", "scale": {"domain": [-1, 1], "nice": false, "zero": false}}, "text": {"field": "text"}}}
      ]
    },
    {"width": 1, "height": 67, "data": {"values": []}, "mark": "point"},

    {"width": 1, "height": 40, "data": {"values": []}, "mark": "point"},
    {"width": 1, "height": 40, "data": {"values": []}, "mark": "point"},
    {"width": 1, "height": 40, "data": {"values": []}, "mark": "point"},
    {"width": 1, "height": 40, "data": {"values": []}, "mark": "point"},

    {"width": 1, "height": 67, "data": {"values": []}, "mark": "point"},
    {"width": 1, "height": 67, "data": {"values": []}, "mark": "point"},
    {
      "width": 221, "height": 67,
      "layer": [
        {"data": {"name": "one"}, "mark": {"type": "rule", "color": "black", "strokeWidth": 1.3},
         "encoding": {"x": {"datum": -8.2, "type": "quantitative", "scale": {"domain": [-8.43, 3.986], "nice": false, "zero": false}, "axis": null}, "x2": {"datum": 9.94},
                      "y": {"field": "level", "type": "quantitative", "scale": {"domain": [-1, 1], "nice": false, "zero": false},
                            "axis": {"labels": false, "ticks": false, "grid": false, "domainColor": "black", "domainWidth": 1.8, "title": null}}}},
        {"data": {"name": "yt1"}, "mark": {"type": "rule", "color": "black", "strokeWidth": 1.8},
         "encoding": {"x": {"datum": -8.43, "type": "quantitative", "scale": {"domain": [-8.43, 3.986], "nice": false, "zero": false}, "axis": null}, "x2": {"datum": -8.093},
                      "y": {"field": "v", "type": "quantitative", "scale": {"domain": [-1, 1], "nice": false, "zero": false}}}},
        {"data": {"name": "yt1"}, "mark": {"type": "text", "align": "right", "baseline": "middle", "dx": -8, "font": "Lato", "fontSize": 13, "fontWeight": "bold", "color": "black"},
         "encoding": {"x": {"datum": -8.43, "type": "quantitative", "scale": {"domain": [-8.43, 3.986], "nice": false, "zero": false}, "axis": null},
                      "y": {"field": "v", "type": "quantitative", "scale": {"domain": [-1, 1], "nice": false, "zero": false}}, "text": {"field": "v", "type": "quantitative"}}},
        {"data": {"name": "fits"}, "transform": [{"filter": "datum.panel === 'C-b'"}], "mark": {"type": "line", "color": "black", "strokeWidth": 1.5},
         "encoding": {"x": {"field": "x", "type": "quantitative", "scale": {"domain": [-8.43, 3.986], "nice": false, "zero": false}, "axis": null},
                      "y": {"field": "y", "type": "quantitative", "scale": {"domain": [-1, 1], "nice": false, "zero": false}},
                      "detail": {"field": "sym", "type": "nominal"}}},
        {"data": {"name": "arrows"}, "transform": [{"filter": "datum.panel === 'C-b'"}], "mark": {"type": "rule", "color": "black", "strokeWidth": 1.3},
         "encoding": {"x": {"field": "x", "type": "quantitative", "scale": {"domain": [-8.43, 3.986], "nice": false, "zero": false}, "axis": null},
                      "y": {"field": "y", "type": "quantitative", "scale": {"domain": [-1, 1], "nice": false, "zero": false}}, "y2": {"field": "tip"}}},
        {"data": {"name": "arrows"}, "transform": [{"filter": "datum.panel === 'C-b'"}], "mark": {"type": "point", "shape": "M-0.5,2L0,0L0.5,2Z", "filled": true, "color": "black", "size": 64, "opacity": 1},
         "encoding": {"x": {"field": "x", "type": "quantitative", "scale": {"domain": [-8.43, 3.986], "nice": false, "zero": false}, "axis": null},
                      "y": {"field": "tip", "type": "quantitative", "scale": {"domain": [-1, 1], "nice": false, "zero": false}}}},
        {"data": {"name": "points"}, "transform": [{"filter": "datum.panel === 'C-b'"}], "mark": {"type": "point", "filled": true, "stroke": "black", "strokeWidth": 1.2, "opacity": 1},
         "encoding": {
           "x": {"field": "x", "type": "quantitative", "scale": {"domain": [-8.43, 3.986], "nice": false, "zero": false}, "axis": null},
           "y": {"field": "y", "type": "quantitative", "scale": {"domain": [-1, 1], "nice": false, "zero": false}},
           "shape": {"field": "sym", "type": "nominal", "scale": {"domain": ["filled", "open", "cross"], "range": ["circle", "circle", "M-1,-1L1,1M-1,1L1,-1"]}, "legend": null},
           "fill": {"field": "sym", "type": "nominal", "scale": {"domain": ["filled", "open", "cross"], "range": ["black", "white", "transparent"]}, "legend": null},
           "size": {"field": "sym", "type": "nominal", "scale": {"domain": ["filled", "open", "cross"], "range": [46, 48, 42]}, "legend": null}}},
        {"data": {"name": "notes"}, "transform": [{"filter": "datum.panel === 'C-b' && datum.kind === 'ion'"}], "mark": {"type": "text", "align": "left", "baseline": "middle", "font": "Lato", "fontSize": 14, "fontStyle": "italic", "color": "black"},
         "encoding": {"x": {"field": "x", "type": "quantitative", "scale": {"domain": [-8.43, 3.986], "nice": false, "zero": false}, "axis": null},
                      "y": {"field": "y", "type": "quantitative", "scale": {"domain": [-1, 1], "nice": false, "zero": false}}, "text": {"field": "text"}}},
        {"data": {"name": "notes"}, "transform": [{"filter": "datum.panel === 'C-b' && datum.kind === 'xlab'"}], "mark": {"type": "text", "align": "center", "baseline": "middle", "font": "Lato", "fontSize": 14.5, "color": "black"},
         "encoding": {"x": {"field": "x", "type": "quantitative", "scale": {"domain": [-8.43, 3.986], "nice": false, "zero": false}, "axis": null},
                      "y": {"field": "y", "type": "quantitative", "scale": {"domain": [-1, 1], "nice": false, "zero": false}}, "text": {"field": "text"}}},
        {"data": {"name": "barspan"}, "mark": {"type": "rule", "color": "black", "strokeWidth": 1.5},
         "encoding": {"x": {"field": "from", "type": "quantitative", "scale": {"domain": [-8.43, 3.986], "nice": false, "zero": false}, "axis": null}, "x2": {"field": "to"},
                      "y": {"datum": -1.17, "type": "quantitative", "scale": {"domain": [-1, 1], "nice": false, "zero": false}}}},
        {"data": {"name": "bar"}, "mark": {"type": "rule", "color": "black", "strokeWidth": 1.5},
         "encoding": {"x": {"field": "x", "type": "quantitative", "scale": {"domain": [-8.43, 3.986], "nice": false, "zero": false}, "axis": null},
                      "y": {"datum": -1.17, "type": "quantitative", "scale": {"domain": [-1, 1], "nice": false, "zero": false}}, "y2": {"datum": -1.05}}},
        {"data": {"name": "bar"}, "mark": {"type": "text", "dy": 15, "align": "center", "baseline": "middle", "font": "Lato", "fontSize": 13, "fontWeight": "bold", "color": "black"},
         "encoding": {"x": {"field": "x", "type": "quantitative", "scale": {"domain": [-8.43, 3.986], "nice": false, "zero": false}, "axis": null},
                      "y": {"datum": -1.17, "type": "quantitative", "scale": {"domain": [-1, 1], "nice": false, "zero": false}}, "text": {"field": "x", "type": "quantitative"}}}
      ]
    },
    {"width": 1, "height": 67, "data": {"values": []}, "mark": "point"},

    {"width": 1, "height": 57, "data": {"values": []}, "mark": "point",
     "title": {"text": [
       "Fig. 6. Reversal potential of i.j.p.s. Abscissae, the membrane potential.",
       "Ordinates, the amplitude of i.j.p.s. Minus indicates the depolarizing direc-",
       "tion. Arrows indicate the resting potential. A, amplitude is measured at",
       "0·1 sec (●) and 1 sec (○) after the start of repetitive stimulation (85/sec).",
       "B, amplitude of i.j.p.s recorded at 1 sec after the start of repetitive stimu-",
       "lation of three different frequencies. ●, 38/sec;  × , 61/sec; ○, 85/sec. Same",
       "muscle fibre as A. C, amplitude of i.j.p.s recorded when the concentration",
       "of Cl⁻ in solution was changed by substituting methylsulphate for Cl⁻.",
       "Amplitude is measured at 0·1 sec (●) and 1 sec (○) after the start of",
       "repetitive stimulation (83/sec). a, recorded immediately after decreasing",
       "the external Cl⁻ concentration from 250·5 to 84·5 mM. The reversal poten-",
       "tial shifted by about 13 mV to the depolarizing direction. b, the normal Cl⁻",
       "solution was readmitted after the muscle had been equilibrated with low",
       "Cl⁻ solution. The reversal potential shifted by about 12 mV to the hyper-",
       "polarizing direction. Arrows indicate the resting potential."
     ], "orient": "bottom", "anchor": "start", "frame": "group", "baseline": "top", "offset": 0, "font": "DejaVu Serif", "fontSize": 16.5, "fontWeight": "normal", "color": "black", "lineHeight": 21}},
    {"width": 1, "height": 57, "data": {"values": []}, "mark": "point"},
    {"width": 1, "height": 57, "data": {"values": []}, "mark": "point"},
    {"width": 1, "height": 57, "data": {"values": []}, "mark": "point"}
  ]
}
